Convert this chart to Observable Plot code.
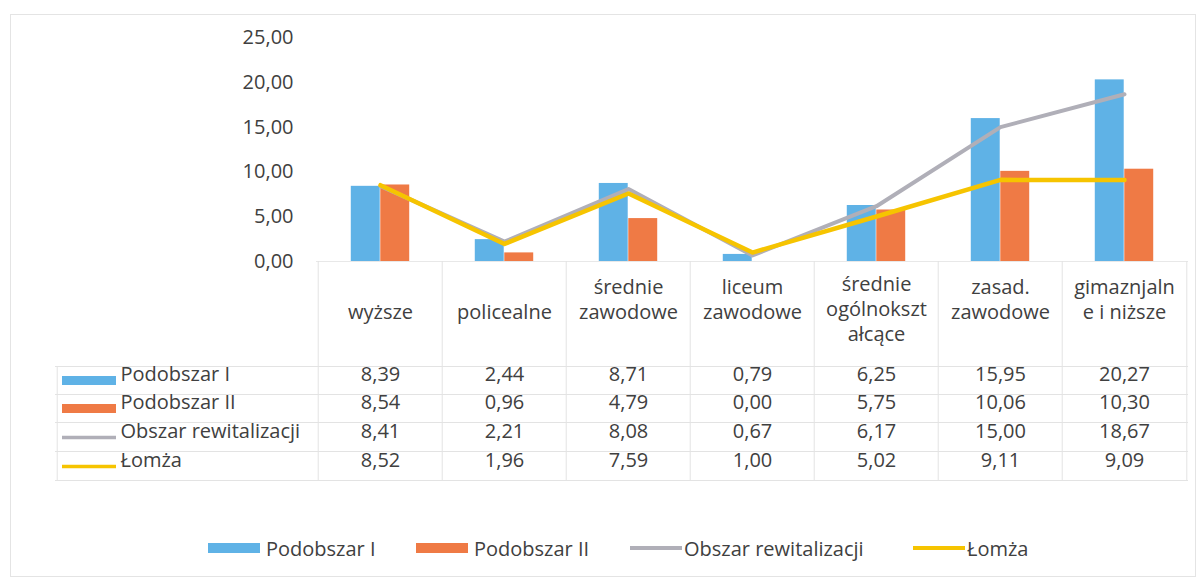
<!DOCTYPE html>
<html>
<head>
<meta charset="utf-8">
<script src="https://cdn.jsdelivr.net/npm/d3@7"></script>
<script src="https://cdn.jsdelivr.net/npm/@observablehq/plot@0.6"></script>
<style>
  html, body { margin: 0; padding: 0; background: #fff; }
  body { font-family: "Open Sans", sans-serif; color: #404040; }
  #wrap { position: relative; width: 1203px; height: 580px; overflow: hidden; }
  #border { position: absolute; left: 10px; top: 14px; width: 1186px; height: 563px; border: 1px solid #e4e4e4; box-sizing: border-box; }
  #chart { position: absolute; left: 0; top: 0; }
  #legend { position: absolute; left: 0; top: 533px; width: 1203px; height: 30px; font-size: 20px; color: #404040; white-space: nowrap; }
  .item { position: absolute; top: 0; height: 30px; display: flex; align-items: center; }
  .sw { display: inline-block; width: 52px; margin-right: 6px; }
</style>
</head>
<body>
<div id="wrap">
  <div id="border"></div>
  <div id="chart"></div>
  <div id="legend"></div>
</div>
<script>
// ---- data ----
const categories = ["wyższe", "policealne", "średnie zawodowe", "liceum zawodowe", "średnie ogólnokształcące", "zasad. zawodowe", "gimaznjalne i niższe"];
const headerLabels = [["wyższe"], ["policealne"], ["średnie", "zawodowe"], ["liceum", "zawodowe"], ["średnie", "ogólnokszt", "ałcące"], ["zasad.", "zawodowe"], ["gimaznjaln", "e i niższe"]];
const seriesNames = ["Podobszar I", "Podobszar II", "Obszar rewitalizacji", "Łomża"];
const podobszarI = [8.39, 2.44, 8.71, 0.79, 6.25, 15.95, 20.27];
const podobszarII = [8.54, 0.96, 4.79, 0.00, 5.75, 10.06, 10.30];
const obszarRewitalizacji = [8.41, 2.21, 8.08, 0.67, 6.17, 15.00, 18.67];
const lomza = [8.52, 1.96, 7.59, 1.00, 5.02, 9.11, 9.09];
const yTicks = [0, 5, 10, 15, 20, 25];

// ---- styling / layout ----
const colors = ["#5fb2e6", "#ef7a45", "#b0afb8", "#f6c400"];
const kinds = ["bar", "bar", "line", "line"];
const textColor = "#404040";
const fs = 20;
const W = 1203, H = 520;
const mTop = 37, mLeft = 316, mRight = 15, axisY0 = 261;
const mBottom = H - axisY0;
const bw = (W - mLeft - mRight) / categories.length;
const barW = 29.5;
const rowOff = [119, 147, 176, 205];          // row text centres below the axis
const hLineOff = [105, 133, 161, 190, 219];    // table horizontal lines below the axis
const tableLeft = 55;
const headerLineOff = {1: [57], 2: [32, 57], 3: [29, 54, 79]};
const legendLeft = [208, 416, 630, 913];

const fmt = v => v.toFixed(2).replace(".", ",");
const seriesValues = [podobszarI, podobszarII, obszarRewitalizacji, lomza];
const rows = seriesNames.map((s, j) => categories.map((c, i) => ({cat: c, series: s, value: seriesValues[j][i]})));
const headerLines = categories.flatMap((c, i) => headerLabels[i].map((t, k) => ({cat: c, text: t, k, n: headerLabels[i].length})));

const grid = "#e3e3e3";
const marks = [];
// table grid
marks.push(Plot.ruleY([0], {stroke: "#e8e8e8", strokeWidth: 1}));
hLineOff.forEach(o => marks.push(Plot.ruleY([0], {dy: o, insetLeft: tableLeft - mLeft, insetRight: 0, stroke: grid, strokeWidth: 1})));
marks.push(Plot.ruleX(categories, {x: d => d, dx: -bw / 2, insetTop: axisY0 - mTop, insetBottom: -hLineOff[4], stroke: grid}));
marks.push(Plot.ruleX([categories[categories.length - 1]], {x: d => d, dx: bw / 2, insetTop: axisY0 - mTop, insetBottom: -hLineOff[4], stroke: grid}));
marks.push(Plot.ruleX([categories[0]], {x: d => d, dx: -bw / 2 - (mLeft - tableLeft), insetTop: axisY0 - mTop + hLineOff[0], insetBottom: -hLineOff[4], stroke: grid}));

// bars
marks.push(Plot.barY(rows[0], {x: "cat", y: "value", fill: colors[0], insetLeft: bw / 2 - barW, insetRight: bw / 2}));
marks.push(Plot.barY(rows[1], {x: "cat", y: "value", fill: colors[1], insetLeft: bw / 2, insetRight: bw / 2 - barW}));
// lines
marks.push(Plot.line(rows[2], {x: "cat", y: "value", stroke: colors[2], strokeWidth: 4, strokeLinejoin: "round"}));
marks.push(Plot.line(rows[3], {x: "cat", y: "value", stroke: colors[3], strokeWidth: 4.5, strokeLinejoin: "round"}));

// y axis
marks.push(Plot.axisY({ticks: yTicks, tickSize: 0, tickPadding: 23, tickFormat: fmt, label: null, fontSize: fs, fill: textColor}));

// table header (category labels), one mark per line slot
Object.entries(headerLineOff).forEach(([n, offs]) => {
  offs.forEach((o, k) => {
    const d = headerLines.filter(h => h.n === +n && h.k === k);
    if (d.length) marks.push(Plot.text(d, {x: "cat", text: "text", frameAnchor: "bottom", dy: o, fontSize: fs, fill: textColor}));
  });
});

// table rows
seriesNames.forEach((s, j) => {
  marks.push(Plot.text(rows[j], {x: "cat", text: d => fmt(d.value), frameAnchor: "bottom", dy: rowOff[j], fontSize: fs, fill: textColor}));
  marks.push(Plot.text([s], {text: d => d, frameAnchor: "bottom-left", dx: 120 - mLeft, dy: rowOff[j], textAnchor: "start", fontSize: fs, fill: textColor}));
  marks.push(Plot.ruleY([0], {dy: rowOff[j], insetLeft: 62 - mLeft, insetRight: (W - mRight) - 116, stroke: colors[j], strokeWidth: kinds[j] === "bar" ? 9 : 3.5}));
});

const chart = Plot.plot({
  width: W, height: H,
  marginTop: mTop, marginLeft: mLeft, marginRight: mRight, marginBottom: mBottom,
  x: {type: "band", domain: categories, paddingInner: 0, paddingOuter: 0, axis: null},
  y: {domain: [0, 25], axis: null},
  style: {fontFamily: "'Open Sans', sans-serif", fontSize: fs + "px", color: textColor, background: "transparent", overflow: "visible"},
  marks
});
document.getElementById("chart").appendChild(chart);

// legend
const legend = document.getElementById("legend");
seriesNames.forEach((s, j) => {
  const it = document.createElement("div");
  it.className = "item";
  it.style.left = legendLeft[j] + "px";
  const sw = document.createElement("span");
  sw.className = "sw";
  sw.style.background = colors[j];
  sw.style.height = kinds[j] === "bar" ? "10px" : "3.5px";
  if (kinds[j] === "line") sw.style.marginRight = "2px";
  const t = document.createElement("span");
  t.textContent = s;
  it.appendChild(sw); it.appendChild(t);
  legend.appendChild(it);
});
</script>
</body>
</html>
